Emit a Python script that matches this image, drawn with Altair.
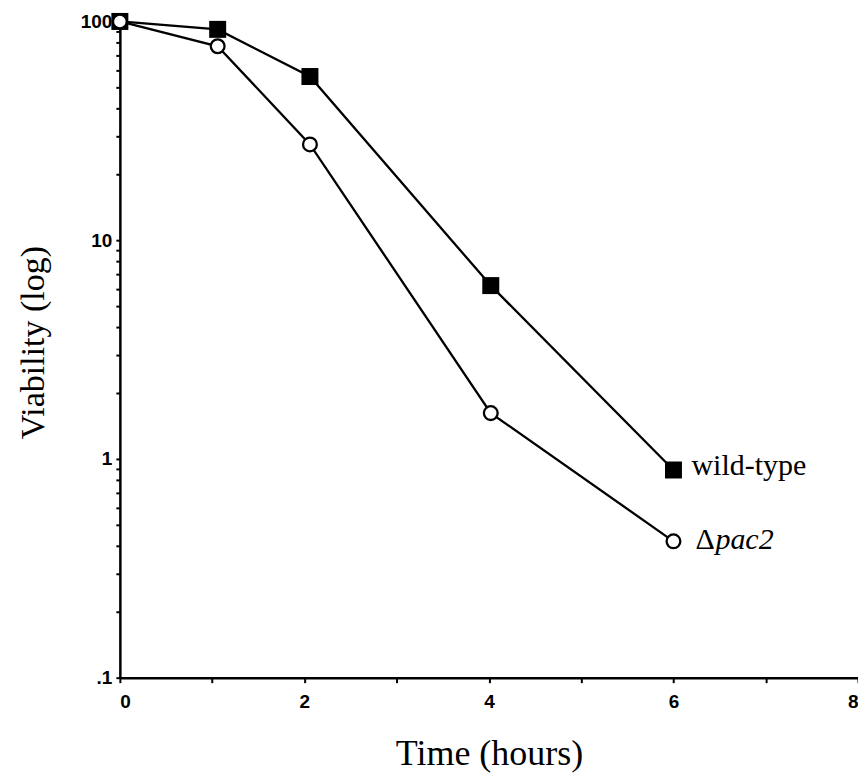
import altair as alt
import pandas as pd

# Data
wt_time = [0.0, 1.06, 2.06, 4.02, 6.0]
wt_viab = [100.0, 92.0, 56.0, 6.2, 0.89]
pac_time = [0.0, 1.06, 2.06, 4.02, 6.0]
pac_viab = [100.0, 77.0, 27.4, 1.62, 0.42]

y_ticks = [0.1, 0.2, 0.3, 0.4, 0.5, 0.6, 0.7, 0.8, 0.9,
           1, 2, 3, 4, 5, 6, 7, 8, 9,
           10, 20, 30, 40, 50, 60, 70, 80, 90, 100]
x_ticks = [0, 1, 2, 3, 4, 5, 6, 7, 8]

df = pd.DataFrame({
    "series": ["wild-type"] * len(wt_time) + ["pac2"] * len(pac_time),
    "time": wt_time + pac_time,
    "viability": wt_viab + pac_viab,
})

label_font = "Liberation Sans"
title_font = "Liberation Serif"

x = alt.X("time:Q",
          scale=alt.Scale(domain=[0, 8], nice=False, zero=False),
          axis=alt.Axis(values=x_ticks,
                        labelExpr="datum.value % 2 == 0 ? datum.label : ''",
                        title="Time (hours)", titleFont=title_font, titleFontSize=36,
                        titleFontWeight="normal", titleColor="black",
                        titleY=87, titleBaseline="alphabetic",
                        labelFont=label_font, labelFontSize=19, labelFontWeight="bold",
                        labelColor="black",
                        labelPadding=10, tickSize=5, tickColor="black", tickWidth=2,
                        domainColor="black", domainWidth=2.5, grid=False))
y = alt.Y("viability:Q",
          scale=alt.Scale(type="log", domain=[0.1, 100], nice=False),
          axis=alt.Axis(values=y_ticks,
                        labelExpr="datum.value == 0.1 ? '.1' : datum.value == 1 ? '1' : datum.value == 10 ? '10' : datum.value == 100 ? '100' : ''",
                        title="Viability (log)", titleFont=title_font, titleFontSize=34,
                        titleFontWeight="normal", titleColor="black",
                        titleX=-86, titleY=321, titleBaseline="middle", titleAngle=270,
                        labelFont=label_font, labelFontSize=19, labelFontWeight="bold",
                        labelColor="black",
                        labelPadding=4, tickSize=4, tickColor="black", tickWidth=2,
                        domainColor="black", domainWidth=2.5, grid=False))

base = alt.Chart(df)

lines = base.mark_line(color="black", strokeWidth=2.3).encode(x=x, y=y, detail="series:N")

squares = base.transform_filter(alt.datum.series == "wild-type").mark_point(
    shape="square", filled=True, color="black", size=289, opacity=1
).encode(x=x, y=y)

circles = base.transform_filter(alt.datum.series == "pac2").mark_point(
    shape="circle", filled=True, fill="white", stroke="black", strokeWidth=2.3, size=190, opacity=1
).encode(x=x, y=y)

last = df[df["time"] == 6.0]

wt_label = alt.Chart(last[last["series"] == "wild-type"]).mark_text(
    text="wild-type", font=title_font, fontSize=30, color="black",
    align="left", baseline="alphabetic", dx=18, dy=5
).encode(x=x, y=y)

delta_label = alt.Chart(last[last["series"] == "pac2"]).mark_text(
    text="Δ", font=title_font, fontSize=30, color="black",
    align="left", baseline="alphabetic", dx=22, dy=8
).encode(x=x, y=y)

pac_label = alt.Chart(last[last["series"] == "pac2"]).mark_text(
    text="pac2", font=title_font, fontSize=30, fontStyle="italic", color="black",
    align="left", baseline="alphabetic", dx=42, dy=8
).encode(x=x, y=y)

chart = alt.layer(lines, squares, circles, wt_label, delta_label, pac_label).properties(
    width=739, height=657,
    autosize=alt.AutoSizeParams(type="none"),
    padding={"left": 112, "top": 13, "right": 0, "bottom": 100},
    background="white",
).configure_view(stroke=None)

chart.save("out.html", embed_options={"renderer": "svg", "actions": False})
